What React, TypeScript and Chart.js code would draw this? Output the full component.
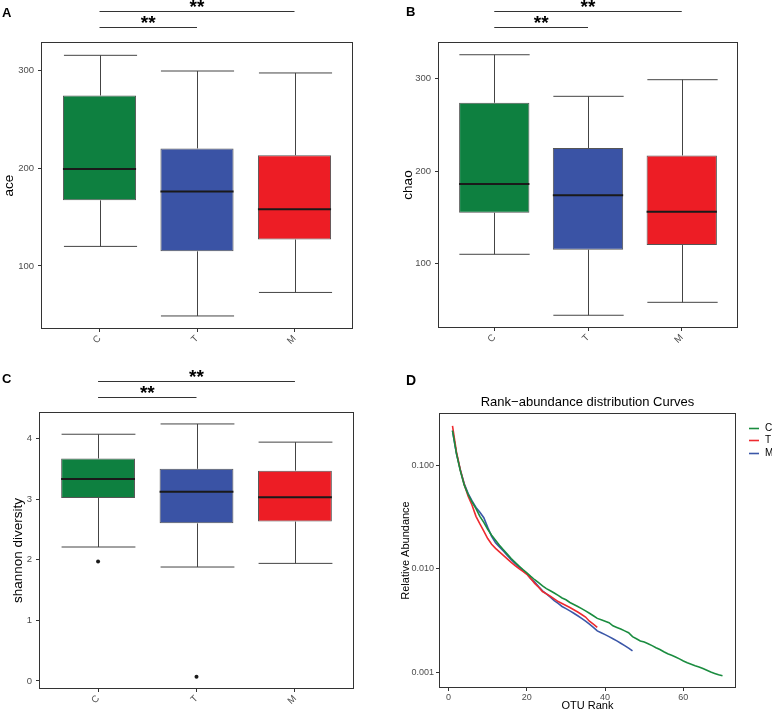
import React, { useEffect, useRef } from 'react';
import { Chart, registerables } from 'chart.js';
Chart.register(...registerables);

const FONT = '"Liberation Sans", Arial, Helvetica, sans-serif';
Chart.defaults.font.family = FONT;

// ---------- data ----------
const groups = ['C', 'T', 'M'];
const groupColors = ['#0E8040', '#3A53A5', '#ED1D25'];
const lineColors = ['#1A8C3F', '#EE2A2F', '#3B57A8'];

// significance comparisons (group index pairs, 1-based) and labels
const sigFrom = [1, 1];
const sigTo = [2, 3];
const sigLabels = ['**', '**'];

// A: ace
const aceLow = [120, 49, 73];
const aceQ1 = [167, 115, 127];
const aceMedian = [199, 176, 158];
const aceQ3 = [274, 220, 213];
const aceHigh = [315, 299, 297];
const aceTicks = [100, 200, 300];

// B: chao
const chaoLow = [110, 44, 58];
const chaoQ1 = [155, 115, 120];
const chaoMedian = [186, 174, 156];
const chaoQ3 = [274, 225, 217];
const chaoHigh = [326, 281, 299];
const chaoTicks = [100, 200, 300];

// C: shannon diversity
const shLow = [2.21, 1.88, 1.94];
const shQ1 = [3.02, 2.6, 2.63];
const shMedian = [3.33, 3.12, 3.03];
const shQ3 = [3.67, 3.5, 3.47];
const shHigh = [4.07, 4.24, 3.94];
const shOutlierGroup = [1, 2];
const shOutlierValue = [1.97, 0.07];
const shTicks = [0, 1, 2, 3, 4];

// D: rank-abundance curves
const rankC = [
  0.215, 0.13, 0.088, 0.064, 0.052, 0.044, 0.038, 0.032, 0.028, 0.024,
  0.021, 0.0188, 0.0168, 0.0152, 0.0138, 0.0125, 0.0115, 0.0106, 0.0098, 0.0091,
  0.0084, 0.0078, 0.0073, 0.0068, 0.0064, 0.0061, 0.0058, 0.0055, 0.0052, 0.005,
  0.0047, 0.0045, 0.0043, 0.0041, 0.0039, 0.0037, 0.0035, 0.0033, 0.0032, 0.0031,
  0.003, 0.0028, 0.0027, 0.0026, 0.0025, 0.0024, 0.0022, 0.0021, 0.002, 0.00195,
  0.00188, 0.0018, 0.00172, 0.00165, 0.00157, 0.0015, 0.00145, 0.0014, 0.00134, 0.00128,
  0.00123, 0.00119, 0.00115, 0.00112, 0.00108, 0.00104, 0.001, 0.00097, 0.00094, 0.00092,
];
const rankT = [
  0.24, 0.135, 0.09, 0.065, 0.05, 0.041, 0.032, 0.027, 0.023, 0.0195,
  0.0172, 0.0157, 0.0145, 0.0134, 0.0124, 0.0115, 0.0107, 0.01, 0.0094, 0.0088,
  0.008, 0.0072, 0.0066, 0.006, 0.0057, 0.0054, 0.0051, 0.0048, 0.0046, 0.0044,
  0.0042, 0.004, 0.0038, 0.0036, 0.0034, 0.0031, 0.0029, 0.0027,
];
const rankM = [
  0.215, 0.13, 0.09, 0.066, 0.053, 0.045, 0.039, 0.035, 0.031, 0.025,
  0.0205, 0.0178, 0.0162, 0.0148, 0.0134, 0.0122, 0.0112, 0.0103, 0.0096, 0.0089,
  0.008, 0.0074, 0.0067, 0.0061, 0.0057, 0.0053, 0.0049, 0.0046, 0.0043, 0.0041,
  0.0039, 0.0037, 0.0035, 0.0033, 0.0031, 0.0029, 0.0027, 0.0025, 0.0024, 0.0023,
  0.0022, 0.0021, 0.002, 0.0019, 0.0018, 0.0017, 0.0016,
];
const rankSeries = [rankC, rankT, rankM];
const rankXTicks = [0, 20, 40, 60];
const rankYTicks = [0.001, 0.01, 0.1];

// ---------- helpers ----------
const TICK_COLOR = '#4D4D4D';
const AXIS_COLOR = '#333333';

function line(ctx: CanvasRenderingContext2D, x1: number, y1: number, x2: number, y2: number) {
  ctx.beginPath();
  ctx.moveTo(x1, y1);
  ctx.lineTo(x2, y2);
  ctx.stroke();
}

function drawBorder(chart: any) {
  const { ctx, chartArea: a } = chart;
  ctx.save();
  ctx.strokeStyle = AXIS_COLOR;
  ctx.lineWidth = 1;
  ctx.strokeRect(Math.round(a.left) + 0.5, Math.round(a.top) + 0.5, Math.round(a.right - a.left) - 1, Math.round(a.bottom - a.top) - 1);
  ctx.restore();
}

function drawRotTitle(ctx: CanvasRenderingContext2D, text: string, x: number, y: number, size: number) {
  ctx.save();
  ctx.translate(x, y);
  ctx.rotate(-Math.PI / 2);
  ctx.font = `${size}px ${FONT}`;
  ctx.fillStyle = '#000';
  ctx.textAlign = 'center';
  ctx.textBaseline = 'middle';
  ctx.fillText(text, 0, 0);
  ctx.restore();
}

function drawLetter(ctx: CanvasRenderingContext2D, t: string, x: number, y: number, size: number) {
  ctx.save();
  ctx.font = `bold ${size}px ${FONT}`;
  ctx.fillStyle = '#000';
  ctx.textAlign = 'left';
  ctx.textBaseline = 'alphabetic';
  ctx.fillText(t, x, y);
  ctx.restore();
}

type BoxSpec = {
  low: number[]; q1: number[]; med: number[]; q3: number[]; high: number[];
  outG: number[]; outV: number[];
  yMin: number; yMax: number; yTicks: number[];
  yTitle: string; titleX: number; letter: string; letterX: number; letterY: number;
  yAxisW: number; padRight: number; padTop: number; xAxisH: number;
};

function boxConfig(s: BoxSpec): any {
  const boxPlugin = {
    id: 'boxParts',
    beforeDatasetsDraw(chart: any) {
      const { ctx } = chart;
      const y = chart.scales.y;
      const meta = chart.getDatasetMeta(0);
      ctx.save();
      ctx.strokeStyle = '#444';
      ctx.lineWidth = 1;
      s.low.forEach((lo, i) => {
        const bar = meta.data[i];
        const cx = Math.round(bar.x) + 0.5;
        const hw = bar.width / 2;
        const yl = y.getPixelForValue(lo);
        const yq1 = y.getPixelForValue(s.q1[i]);
        const yq3 = y.getPixelForValue(s.q3[i]);
        const yh = y.getPixelForValue(s.high[i]);
        line(ctx, cx, yl, cx, yq1);
        line(ctx, cx, yq3, cx, yh);
        line(ctx, cx - hw, yl, cx + hw, yl);
        line(ctx, cx - hw, yh, cx + hw, yh);
      });
      ctx.restore();
    },
    afterDatasetsDraw(chart: any) {
      const { ctx } = chart;
      const y = chart.scales.y;
      const meta = chart.getDatasetMeta(0);
      ctx.save();
      ctx.strokeStyle = '#1A1A1A';
      ctx.lineWidth = 2;
      s.med.forEach((m, i) => {
        const bar = meta.data[i];
        const hw = bar.width / 2;
        const ym = y.getPixelForValue(m);
        line(ctx, bar.x - hw, ym, bar.x + hw, ym);
      });
      ctx.restore();
    },
    afterDraw(chart: any) {
      const { ctx, chartArea: a } = chart;
      const x = chart.scales.x;
      drawBorder(chart);
      drawLetter(ctx, s.letter, s.letterX, s.letterY, 13);
      drawRotTitle(ctx, s.yTitle, s.titleX, (a.top + a.bottom) / 2, 13.5);
      // significance brackets
      ctx.save();
      ctx.strokeStyle = '#333';
      ctx.lineWidth = 1;
      ctx.fillStyle = '#000';
      ctx.font = `bold 19px ${FONT}`;
      ctx.textAlign = 'center';
      ctx.textBaseline = 'alphabetic';
      sigFrom.forEach((f, k) => {
        const ly = Math.round(a.top - 15 - k * 15.7) + 0.5;
        const x1 = x.getPixelForValue(f);
        const x2 = x.getPixelForValue(sigTo[k]);
        line(ctx, x1, ly, x2, ly);
        ctx.fillText(sigLabels[k], (x1 + x2) / 2, ly + 1);
      });
      ctx.restore();
    },
  };

  return {
    type: 'bar',
    data: {
      datasets: [
        {
          type: 'bar',
          data: groups.map((g, i) => ({ x: i + 1, y: [s.q1[i], s.q3[i]] })),
          backgroundColor: groupColors,
          borderColor: '#555',
          borderWidth: 1,
          borderSkipped: false,
          barPercentage: 0.75,
          categoryPercentage: 1,
          grouped: false,
        },
        {
          type: 'scatter',
          data: s.outG.map((g, i) => ({ x: g, y: s.outV[i] })),
          backgroundColor: '#1A1A1A',
          borderColor: '#1A1A1A',
          pointRadius: 2,
          borderWidth: 0,
        },
      ],
    },
    options: {
      responsive: false,
      animation: false,
      devicePixelRatio: 1,
      events: [],
      layout: { padding: { left: 0, right: s.padRight, top: s.padTop, bottom: 0 } },
      plugins: { legend: { display: false }, tooltip: { enabled: false }, title: { display: false } },
      scales: {
        x: {
          type: 'linear',
          min: 0.4,
          max: 3.6,
          offset: false,
          grid: { display: true, drawOnChartArea: false, drawTicks: true, tickLength: 3, color: AXIS_COLOR, offset: false },
          border: { display: false },
          afterBuildTicks: (sc: any) => { sc.ticks = groups.map((g, i) => ({ value: i + 1 })); },
          afterFit: (sc: any) => { sc.height = s.xAxisH; },
          ticks: {
            autoSkip: false,
            minRotation: 45,
            maxRotation: 45,
            padding: 1,
            color: TICK_COLOR,
            font: { size: 9.5, family: FONT },
            callback: (v: any) => groups[Math.round(v) - 1] ?? '',
          },
        },
        y: {
          type: 'linear',
          min: s.yMin,
          max: s.yMax,
          grid: { display: true, drawOnChartArea: false, drawTicks: true, tickLength: 3, color: AXIS_COLOR },
          border: { display: false },
          afterBuildTicks: (sc: any) => { sc.ticks = s.yTicks.map((v) => ({ value: v })); },
          afterFit: (sc: any) => { sc.width = s.yAxisW; },
          ticks: {
            padding: 4,
            color: TICK_COLOR,
            font: { size: 9.5, family: FONT },
            callback: (v: any) => String(v),
          },
        },
      },
    },
    plugins: [boxPlugin],
  };
}

function rankConfig(): any {
  const annot = {
    id: 'rankAnnot',
    afterDraw(chart: any) {
      const { ctx, chartArea: a } = chart;
      drawBorder(chart);
      drawLetter(ctx, 'D', 20, 25, 14);
      const cx = (a.left + a.right) / 2;
      ctx.save();
      ctx.fillStyle = '#000';
      ctx.textAlign = 'center';
      ctx.textBaseline = 'middle';
      ctx.font = `13px ${FONT}`;
      ctx.fillText('Rank\u2212abundance distribution Curves', cx, 42);
      ctx.font = `11px ${FONT}`;
      ctx.fillText('OTU Rank', cx, 346);
      ctx.restore();
      drawRotTitle(ctx, 'Relative Abundance', 19.5, (a.top + a.bottom) / 2, 11);
      // legend
      ctx.save();
      ctx.font = `10px ${FONT}`;
      ctx.textAlign = 'left';
      ctx.textBaseline = 'middle';
      chart.data.datasets.forEach((ds: any, i: number) => {
        const ly = Math.round(a.top + 14.5 + i * 12.5) + 0.5;
        ctx.strokeStyle = ds.borderColor;
        ctx.lineWidth = 1.6;
        line(ctx, a.right + 13, ly, a.right + 23, ly);
        ctx.fillStyle = '#000';
        ctx.fillText(ds.label, a.right + 29, ly);
      });
      ctx.restore();
    },
  };
  return {
    type: 'line',
    data: {
      datasets: rankSeries.map((arr, k) => ({
        label: groups[k],
        data: arr.map((v, i) => ({ x: i + 1, y: v })),
        borderColor: lineColors[k],
        backgroundColor: lineColors[k],
        borderWidth: 1.6,
        pointRadius: 0,
        tension: 0,
        fill: false,
      })),
    },
    options: {
      responsive: false,
      animation: false,
      devicePixelRatio: 1,
      events: [],
      layout: { padding: { left: 0, right: 36, top: 53, bottom: 0 } },
      plugins: { legend: { display: false }, tooltip: { enabled: false }, title: { display: false } },
      scales: {
        x: {
          type: 'linear',
          min: -2.45,
          max: 73.45,
          grid: { display: true, drawOnChartArea: false, drawTicks: true, tickLength: 3, color: AXIS_COLOR },
          border: { display: false },
          afterBuildTicks: (sc: any) => { sc.ticks = rankXTicks.map((v) => ({ value: v })); },
          afterFit: (sc: any) => { sc.height = 23; },
          ticks: { padding: 1, maxRotation: 0, color: TICK_COLOR, font: { size: 9, family: FONT }, callback: (v: any) => String(v) },
        },
        y: {
          type: 'logarithmic',
          min: 0.000701,
          max: 0.319,
          grid: { display: true, drawOnChartArea: false, drawTicks: true, tickLength: 3, color: AXIS_COLOR },
          border: { display: false },
          afterBuildTicks: (sc: any) => { sc.ticks = rankYTicks.map((v) => ({ value: v })); },
          afterFit: (sc: any) => { sc.width = 53; },
          ticks: { padding: 2, color: TICK_COLOR, font: { size: 9, family: FONT }, callback: (v: any) => Number(v).toFixed(3) },
        },
      },
    },
    plugins: [annot],
  };
}

function Panel(props: { left: number; top: number; width: number; height: number; make: () => any }) {
  const ref = useRef<HTMLCanvasElement>(null);
  useEffect(() => {
    const chart = new Chart(ref.current as HTMLCanvasElement, props.make());
    return () => chart.destroy();
  }, []);
  return (
    <canvas
      ref={ref}
      width={props.width}
      height={props.height}
      style={{ position: 'absolute', left: props.left, top: props.top, width: props.width, height: props.height, display: 'block' }}
    />
  );
}

export default function App() {
  return (
    <div style={{ position: 'absolute', left: 0, top: 0, width: 772, height: 711, background: '#fff', overflow: 'hidden' }}>
      <Panel left={0} top={0} width={386} height={360} make={() => boxConfig({
        low: aceLow, q1: aceQ1, med: aceMedian, q3: aceQ3, high: aceHigh, outG: [], outV: [],
        yMin: 35.7, yMax: 328.6, yTicks: aceTicks, yTitle: 'ace', titleX: 9,
        letter: 'A', letterX: 2, letterY: 17, yAxisW: 41, padRight: 33, padTop: 42, xAxisH: 31,
      })} />
      <Panel left={386} top={0} width={386} height={360} make={() => boxConfig({
        low: chaoLow, q1: chaoQ1, med: chaoMedian, q3: chaoQ3, high: chaoHigh, outG: [], outV: [],
        yMin: 30.2, yMax: 339.8, yTicks: chaoTicks, yTitle: 'chao', titleX: 22,
        letter: 'B', letterX: 20, letterY: 16, yAxisW: 52, padRight: 34, padTop: 42, xAxisH: 32,
      })} />
      <Panel left={0} top={360} width={386} height={351} make={() => boxConfig({
        low: shLow, q1: shQ1, med: shMedian, q3: shQ3, high: shHigh, outG: shOutlierGroup, outV: shOutlierValue,
        yMin: -0.132, yMax: 4.437, yTicks: shTicks, yTitle: 'shannon diversity', titleX: 18,
        letter: 'C', letterX: 2, letterY: 23, yAxisW: 39, padRight: 32, padTop: 52, xAxisH: 22,
      })} />
      <Panel left={386} top={360} width={386} height={351} make={rankConfig} />
    </div>
  );
}
